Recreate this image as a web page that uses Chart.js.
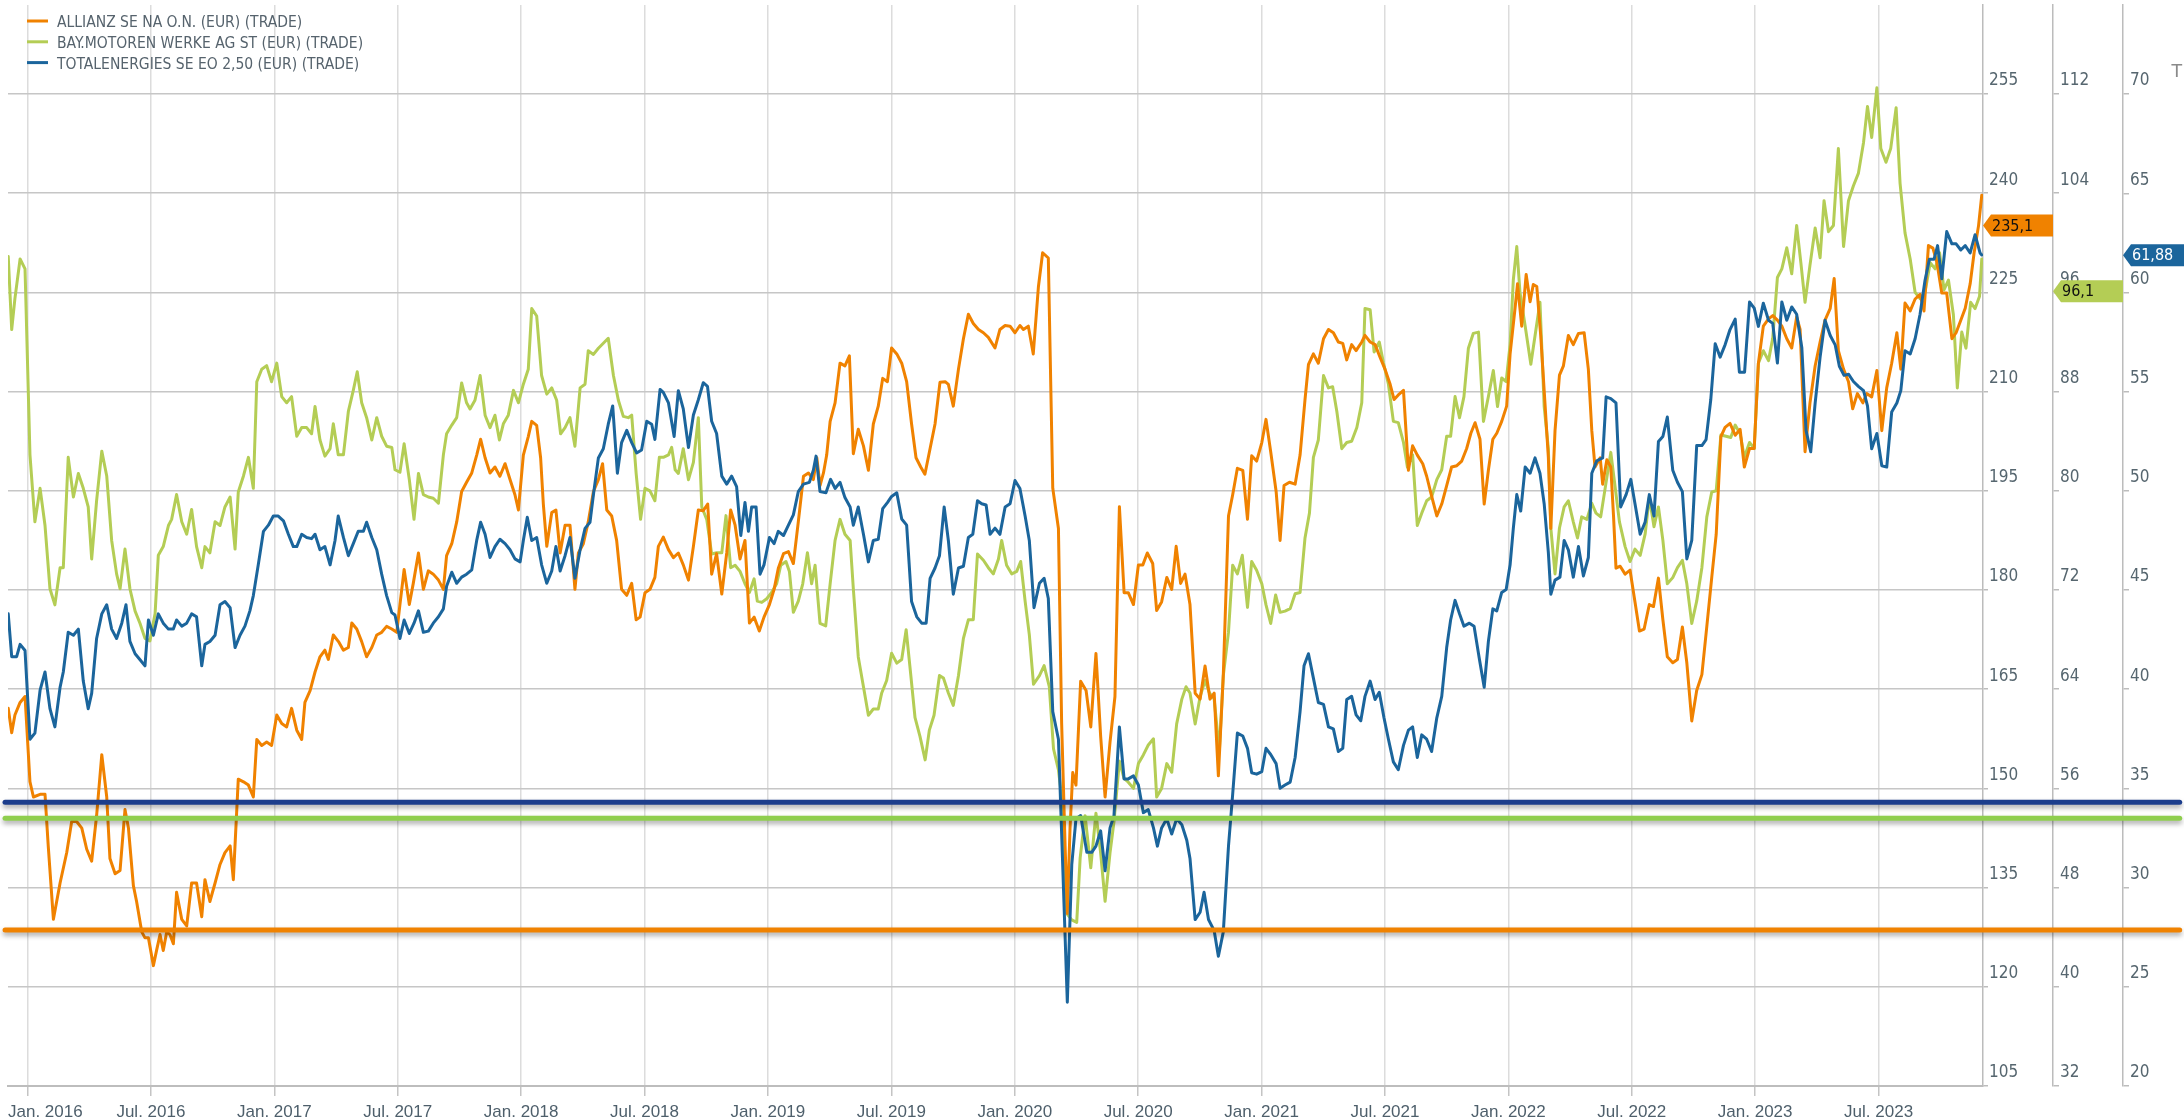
<!DOCTYPE html>
<html>
<head>
<meta charset="utf-8">
<title>Allianz / BMW / TotalEnergies</title>
<script src="https://cdn.jsdelivr.net/npm/chart.js@4.4.1/dist/chart.umd.min.js"></script>
<style>
    html, body { margin: 0; padding: 0; background: #ffffff; }
    #wrap { width: 2184px; height: 1120px; }
</style>
</head>
<body>
<div id="wrap"><canvas id="myChart" width="2184" height="1120"></canvas></div>
<script>
// x values are decimal years
const xTickValues = [2016, 2016.5, 2017, 2017.5, 2018, 2018.5, 2019, 2019.5, 2020, 2020.5, 2021, 2021.5, 2022, 2022.5, 2023, 2023.5];
const xTickLabels = ['Jan. 2016', 'Jul. 2016', 'Jan. 2017', 'Jul. 2017', 'Jan. 2018', 'Jul. 2018', 'Jan. 2019', 'Jul. 2019',
    'Jan. 2020', 'Jul. 2020', 'Jan. 2021', 'Jul. 2021', 'Jan. 2022', 'Jul. 2022', 'Jan. 2023', 'Jul. 2023'];
const xRange = [2015.921, 2023.923];

const seriesNames = ['ALLIANZ SE NA O.N. (EUR) (TRADE)', 'BAY.MOTOREN WERKE AG ST (EUR) (TRADE)', 'TOTALENERGIES SE EO 2,50 (EUR) (TRADE)'];
const lastValues = [235.1, 96.1, 61.88];

// horizontal marker lines (value on each series' own axis)
const levelRange = [2015.909, 2024.72];
const levelValues = [128.6, 53.6, 34.3];

const allianzSeries = [
    [2015.922,162.1],[2015.936,158.4],[2015.949,161.1],[2015.970,163.0],[2015.990,163.9],[2016.010,151.0],[2016.024,148.7],[2016.051,149.1],[2016.071,149.1],[2016.084,141.3],
    [2016.105,130.2],[2016.132,135.7],[2016.159,140.3],[2016.179,145.0],[2016.199,145.0],[2016.220,144.0],[2016.240,140.8],[2016.260,139.0],[2016.280,145.9],[2016.301,155.1],
    [2016.321,148.7],[2016.334,139.4],[2016.355,137.1],[2016.375,137.6],[2016.395,146.8],[2016.409,144.0],[2016.429,135.3],[2016.442,132.9],[2016.463,128.3],[2016.476,127.4],
    [2016.490,127.4],[2016.510,123.2],[2016.523,125.5],[2016.537,127.9],[2016.550,125.5],[2016.564,128.3],[2016.577,127.9],[2016.591,126.5],[2016.604,134.3],[2016.625,130.2],
    [2016.645,129.2],[2016.665,135.7],[2016.685,135.7],[2016.706,130.6],[2016.719,136.2],[2016.739,132.9],[2016.760,135.7],[2016.780,138.5],[2016.800,140.3],[2016.821,141.3],
    [2016.834,136.2],[2016.854,151.4],[2016.875,151.0],[2016.895,150.5],[2016.915,148.7],[2016.929,157.4],[2016.949,156.5],[2016.969,157.0],[2016.989,156.5],[2017.010,161.1],
    [2017.030,159.8],[2017.050,159.3],[2017.070,162.1],[2017.091,158.8],[2017.111,157.4],[2017.124,163.0],[2017.145,164.8],[2017.165,167.6],[2017.185,169.9],[2017.205,170.9],
    [2017.219,169.5],[2017.239,173.2],
    [2017.260,172.2],[2017.280,170.9],[2017.300,171.3],[2017.314,175.0],[2017.334,174.1],[2017.354,172.2],[2017.374,169.9],[2017.395,171.3],[2017.415,173.2],[2017.435,173.6],
    [2017.455,174.5],[2017.476,174.1],[2017.496,173.6],[2017.509,177.8],[2017.526,183.1],[2017.547,177.8],[2017.563,181.0],[2017.584,185.6],[2017.604,180.1],[2017.624,182.9],
    [2017.644,182.4],[2017.665,181.5],[2017.685,180.1],[2017.698,185.2],[2017.719,187.0],[2017.739,190.3],[2017.759,194.9],[2017.779,196.3],[2017.800,197.7],[2017.820,200.4],
    [2017.836,202.8],[2017.854,200.0],[2017.874,197.7],[2017.894,198.6],[2017.914,197.2],[2017.935,199.1],[2017.955,196.7],[2017.975,194.4],[2017.989,192.1],[2018.009,200.4],
    [2018.029,203.2],[2018.043,205.5],[2018.063,204.9],[2018.079,200.0],[2018.090,193.0],[2018.104,186.6],[2018.124,191.7],[2018.141,192.1],[2018.158,185.6],[2018.178,189.8],
    [2018.198,189.8],[2018.218,180.1],[2018.232,185.6],[2018.252,187.0],[2018.272,190.3],[2018.293,194.9],[2018.313,196.7],[2018.330,199.1],[2018.347,192.1],[2018.367,191.2],
    [2018.387,187.5],[2018.407,180.1],[2018.428,179.2],[2018.448,181.0],[2018.466,175.5],[2018.482,175.9],[2018.502,179.6],[2018.522,180.1],[2018.542,181.9],[2018.556,186.6],
    [2018.576,188.0],[2018.597,186.1],[2018.617,184.9],[2018.637,185.6],[2018.657,183.8],[2018.678,181.5],[2018.698,186.6],[2018.718,192.1],[2018.738,192.0],[2018.756,193.0],
    [2018.772,182.4],[2018.792,185.5],[2018.813,179.4],[2018.833,185.6],[2018.849,192.1],[2018.867,189.8],[2018.887,184.7],[2018.907,187.5],[2018.925,175.0],[2018.944,175.9],
    [2018.965,173.8],[2018.984,175.9],[2019.006,177.8],[2019.025,180.1],[2019.042,183.3],[2019.063,185.5],[2019.083,185.8],[2019.103,184.0],[2019.123,190.3],[2019.144,197.2],
    [2019.164,197.7],[2019.184,196.7],[2019.198,200.0],[2019.211,195.8],[2019.225,197.7],[2019.238,200.4],[2019.252,205.5],[2019.272,208.3],[2019.292,214.3],[2019.312,213.9],
    [2019.330,215.4],[2019.346,200.6],[2019.366,204.3],[2019.387,201.8],[2019.407,198.1],[2019.427,205.1],[2019.447,207.8],[2019.465,212.0],[2019.484,211.5],[2019.501,216.6],
    [2019.522,215.7],[2019.542,214.3],[2019.562,211.5],[2019.582,205.1],[2019.600,200.0],[2019.619,198.6],[2019.636,197.5],[2019.657,201.4],[2019.677,205.1],[2019.697,211.4],
    [2019.718,211.5],[2019.731,211.1],[2019.751,207.8],[2019.772,213.4],[2019.792,218.0],[2019.812,221.7],[2019.832,220.3],[2019.853,219.4],[2019.873,218.9],[2019.893,218.2],
    [2019.920,216.6],[2019.940,219.4],[2019.961,220.0],[2019.981,219.9],[2020.001,218.9],[2020.021,220.0],[2020.035,219.4],[2020.055,219.9],[2020.075,215.7],[2020.096,225.9],
    [2020.113,231.0],[2020.136,230.2],[2020.154,195.4],[2020.177,189.3],[2020.190,159.8],[2020.204,141.3],[2020.213,131.1],[2020.224,144.0],[2020.235,152.4],[2020.248,150.5],
    [2020.267,166.2],[2020.289,164.8],[2020.308,159.3],[2020.329,170.4],[2020.348,157.9],[2020.366,148.7],[2020.386,157.0],[2020.406,163.9],[2020.424,192.6],[2020.443,179.6],
    [2020.460,179.6],[2020.481,177.8],[2020.501,183.8],[2020.519,183.8],[2020.537,185.6],[2020.559,184.0],[2020.575,176.9],[2020.595,178.2],[2020.616,181.9],[2020.636,180.1],
    [2020.654,186.6],[2020.672,181.0],[2020.690,182.4],[2020.710,177.8],[2020.731,164.4],[2020.751,163.5],[2020.771,168.5],[2020.791,163.5],[2020.808,164.4],[2020.825,151.9],
    [2020.845,167.2],[2020.866,191.2],[2020.883,194.4],[2020.902,198.4],[2020.924,198.1],[2020.943,190.7],[2020.960,200.3],[2020.980,199.5],[2021.001,202.3],[2021.018,205.8],
    [2021.037,200.9],[2021.059,194.9],[2021.075,187.5],[2021.091,195.8],[2021.113,196.3],[2021.136,196.0],[2021.156,200.4],[2021.176,208.8],[2021.190,214.1],[2021.210,215.7],
    [2021.230,214.3],
    [2021.251,218.0],[2021.271,219.4],[2021.291,218.9],[2021.311,217.5],[2021.329,217.3],[2021.345,214.8],[2021.365,217.1],[2021.383,216.2],[2021.406,217.5],[2021.419,218.5],
    [2021.440,217.5],[2021.460,217.1],[2021.480,215.2],[2021.500,213.4],[2021.521,211.1],[2021.537,208.8],[2021.554,209.5],[2021.575,210.2],[2021.595,198.1],[2021.612,201.8],
    [2021.631,200.4],[2021.653,199.1],[2021.669,197.2],[2021.689,194.2],[2021.710,191.2],[2021.730,193.0],[2021.750,195.8],[2021.770,198.6],[2021.791,198.8],[2021.811,199.5],
    [2021.831,201.4],[2021.848,203.7],[2021.865,205.3],[2021.885,202.8],[2021.902,193.0],[2021.919,198.1],[2021.937,202.8],[2021.953,203.7],[2021.973,205.5],[2021.993,207.8],
    [2022.007,215.7],[2022.027,222.6],[2022.037,226.3],[2022.054,219.9],[2022.072,227.7],[2022.088,223.6],[2022.101,226.2],[2022.115,225.9],[2022.131,218.5],[2022.145,210.2],
    [2022.162,200.0],[2022.172,189.3],[2022.189,204.1],[2022.207,212.5],[2022.223,213.9],[2022.243,218.5],[2022.263,217.1],[2022.284,218.8],[2022.307,218.9],[2022.324,213.4],
    [2022.338,204.1],[2022.351,198.6],[2022.372,200.0],[2022.382,196.0],[2022.399,199.7],[2022.415,198.6],[2022.426,191.2],[2022.436,183.3],[2022.453,183.6],[2022.473,182.4],
    [2022.493,183.0],[2022.513,178.2],[2022.531,173.8],[2022.550,174.1],[2022.571,177.8],
    [2022.588,177.5],[2022.608,181.8],[2022.626,175.5],[2022.644,169.9],[2022.666,169.0],[2022.685,169.5],[2022.705,174.4],[2022.723,169.0],[2022.743,160.2],[2022.763,164.8],
    [2022.784,167.2],[2022.804,174.5],[2022.824,181.9],[2022.842,188.4],[2022.861,203.2],[2022.878,204.6],[2022.898,205.2],[2022.919,203.4],[2022.939,204.3],[2022.956,198.6],
    [2022.977,201.4],[2022.996,201.4],[2023.013,214.3],[2023.033,219.9],[2023.054,221.0],[2023.071,221.5],[2023.090,220.8],[2023.108,219.9],[2023.128,218.0],[2023.148,216.6],
    [2023.168,221.3],[2023.182,219.4],[2023.202,200.9],[2023.222,208.3],[2023.243,213.9],[2023.263,217.5],[2023.283,220.8],[2023.304,222.6],[2023.320,227.1],[2023.337,216.2],
    [2023.358,213.4],[2023.378,211.5],[2023.395,207.4],[2023.414,209.7],[2023.436,208.3],[2023.452,209.7],[2023.472,209.2],[2023.493,213.2],[2023.513,204.1],[2023.533,210.6],
    [2023.553,214.3],[2023.574,218.9],[2023.590,213.4],[2023.607,223.4],[2023.628,222.2],[2023.648,224.0],[2023.668,224.7],[2023.684,222.2],[2023.702,232.1],[2023.720,231.7],
    [2023.736,229.6],[2023.756,224.9],[2023.776,224.9],[2023.797,218.0],[2023.814,218.9],[2023.833,220.8],[2023.851,222.6],[2023.871,226.3],[2023.887,231.0],[2023.905,235.1],
    [2023.918,239.7]
];

const bmwSeries = [
    [2015.922,98.9],[2015.936,93.0],[2015.949,95.5],[2015.970,98.7],[2015.990,97.9],[2016.010,82.9],[2016.030,77.5],[2016.051,80.2],[2016.071,77.2],[2016.091,72.1],
    [2016.111,70.8],[2016.132,73.8],[2016.145,73.8],[2016.165,82.7],[2016.186,79.5],[2016.206,81.4],[2016.226,80.2],[2016.246,78.7],[2016.260,74.5],[2016.280,79.2],
    [2016.301,83.2],[2016.321,81.2],[2016.341,76.0],[2016.361,73.3],[2016.375,72.1],[2016.395,75.3],[2016.415,72.1],[2016.436,70.3],[2016.456,69.3],[2016.476,68.1],
    [2016.496,67.9],[2016.517,70.1],[2016.530,74.8],[2016.550,75.5],[2016.571,77.2],[2016.584,77.7],[2016.604,79.7],[2016.625,77.5],[2016.645,76.5],[2016.665,78.5],
    [2016.685,75.5],[2016.706,73.8],[2016.719,75.5],[2016.739,75.0],[2016.760,77.5],[2016.780,77.2],[2016.800,78.7],[2016.821,79.5],[2016.841,75.3],[2016.854,79.9],
    [2016.875,81.2],[2016.895,82.7],[2016.915,80.2],[2016.929,88.8],[2016.949,89.8],[2016.969,90.1],[2016.989,88.8],[2017.010,90.3],[2017.030,87.6],[2017.050,87.1],
    [2017.070,87.6],[2017.091,84.4],[2017.111,85.1],[2017.131,85.1],[2017.151,84.6],[2017.165,86.8],[2017.185,84.1],[2017.205,82.8],[2017.226,83.4],[2017.239,85.4],
    [2017.259,82.9],[2017.280,82.9],[2017.300,86.4],[2017.320,88.1],[2017.336,89.6],[2017.354,87.1],[2017.374,85.9],[2017.395,84.1],[2017.415,85.9],[2017.435,84.4],
    [2017.455,83.6],[2017.476,83.5],[2017.489,81.7],[2017.509,81.5],[2017.526,83.8],[2017.547,80.9],[2017.566,77.7],[2017.584,81.4],[2017.604,79.7],[2017.624,79.5],
    [2017.644,79.4],[2017.665,79.0],[2017.685,82.9],[2017.698,84.6],[2017.719,85.3],[2017.739,85.9],[2017.759,88.7],[2017.779,87.1],[2017.793,86.6],[2017.813,87.3],
    [2017.834,89.3],[2017.854,86.1],[2017.874,85.1],[2017.894,86.1],[2017.912,84.1],[2017.928,85.4],[2017.948,86.1],[2017.969,88.1],[2017.989,87.1],[2018.009,88.6],
    [2018.029,89.8],[2018.043,94.7],[2018.063,94.1],[2018.083,89.3],[2018.104,87.8],[2018.124,88.3],[2018.144,87.3],[2018.160,84.6],[2018.178,85.1],[2018.198,85.9],
    [2018.218,83.6],[2018.239,88.3],[2018.259,88.6],[2018.272,91.3],[2018.293,91.0],[2018.313,91.5],[2018.333,91.9],[2018.353,92.3],[2018.374,89.3],[2018.394,87.3],
    [2018.414,86.0],[2018.434,85.9],[2018.448,86.1],[2018.466,81.4],[2018.484,77.7],[2018.502,80.2],[2018.522,80.0],[2018.542,79.2],[2018.560,82.7],
    [2018.576,82.7],[2018.597,82.9],[2018.610,83.5],[2018.624,81.7],[2018.637,81.4],[2018.657,83.4],[2018.678,80.9],[2018.698,82.3],[2018.718,85.9],[2018.732,78.7],
    [2018.752,77.7],[2018.772,74.9],[2018.792,75.0],[2018.813,75.0],[2018.830,78.0],[2018.849,73.8],[2018.867,74.0],[2018.887,73.5],[2018.907,72.5],[2018.925,71.8],
    [2018.944,72.9],[2018.957,71.1],[2018.975,71.0],[2018.995,71.3],[2019.015,71.8],[2019.035,72.5],[2019.052,74.0],[2019.073,74.3],[2019.087,73.5],[2019.103,70.2],
    [2019.123,71.1],[2019.141,72.5],[2019.160,75.0],[2019.177,72.5],[2019.191,74.0],[2019.211,69.3],[2019.234,69.1],[2019.252,72.5],[2019.272,76.0],[2019.292,77.7],
    [2019.312,76.5],[2019.333,76.0],[2019.346,72.1],[2019.366,66.6],[2019.387,64.2],[2019.407,61.9],[2019.427,62.4],[2019.447,62.4],[2019.461,63.7],[2019.481,64.7],
    [2019.501,66.9],[2019.522,66.1],[2019.542,66.4],[2019.560,68.8],[2019.579,65.1],[2019.596,61.7],[2019.616,60.2],[2019.637,58.3],[2019.654,60.7],[2019.673,61.9],
    [2019.695,65.1],[2019.711,64.9],[2019.731,63.7],[2019.751,62.7],[2019.772,65.1],[2019.792,68.1],[2019.812,69.6],[2019.832,69.6],[2019.849,74.9],[2019.873,74.4],
    [2019.893,73.8],
    [2019.913,73.3],[2019.934,74.5],[2019.947,76.0],[2019.967,74.0],[2019.988,73.3],[2020.008,73.5],[2020.024,74.3],[2020.042,71.1],[2020.059,68.4],[2020.076,64.4],
    [2020.100,65.1],[2020.119,65.9],[2020.140,64.2],[2020.157,59.2],[2020.177,57.5],[2020.190,55.3],[2020.211,45.9],[2020.231,45.4],[2020.251,45.2],[2020.265,50.4],
    [2020.285,53.8],[2020.308,49.6],[2020.329,54.0],[2020.348,50.8],[2020.366,46.9],[2020.386,50.8],[2020.402,53.3],[2020.424,58.2],[2020.443,56.8],[2020.460,56.5],
    [2020.481,56.0],[2020.501,58.0],[2020.521,58.7],[2020.541,59.5],[2020.562,60.0],[2020.575,55.3],[2020.595,56.0],[2020.616,58.0],[2020.636,57.3],[2020.656,61.2],
    [2020.677,63.2],[2020.694,64.2],[2020.710,63.7],[2020.731,61.2],[2020.751,63.4],[2020.771,64.7],[2020.789,63.7],[2020.808,63.2],[2020.829,59.0],[2020.845,65.1],
    [2020.866,68.6],[2020.883,74.0],[2020.902,73.3],[2020.922,74.8],[2020.943,70.6],[2020.960,74.3],[2020.980,73.6],[2021.001,72.5],[2021.018,70.8],[2021.037,69.3],
    [2021.057,71.6],[2021.075,70.2],[2021.095,70.3],[2021.116,70.5],[2021.136,71.7],[2021.156,71.8],[2021.176,76.2],[2021.194,78.2],[2021.210,82.7],[2021.230,84.1],
    [2021.251,89.3],[2021.271,88.3],[2021.288,88.4],[2021.305,86.4],[2021.325,83.4],[2021.345,83.9],[2021.365,84.0],[2021.386,85.1],[2021.406,87.1],[2021.419,94.7],
    [2021.440,94.6],[2021.456,91.2],[2021.477,92.0],[2021.494,90.3],[2021.514,88.6],[2021.534,85.6],[2021.554,85.5],[2021.575,83.9],[2021.591,81.9],[2021.612,82.9],
    [2021.631,77.2],[2021.649,78.2],[2021.669,79.2],[2021.689,79.5],[2021.710,80.9],[2021.730,81.7],[2021.750,84.4],[2021.766,84.4],[2021.784,87.6],[2021.802,85.9],
    [2021.820,87.6],[2021.838,91.5],[2021.858,92.7],[2021.879,92.8],[2021.899,85.6],[2021.919,87.6],[2021.939,89.7],[2021.956,86.8],[2021.973,89.1],[2021.991,88.8],
    [2022.007,91.8],[2022.020,97.0],[2022.034,99.7],[2022.047,96.0],[2022.068,93.3],[2022.091,90.2],[2022.108,92.5],[2022.128,95.2],[2022.145,86.8],[2022.162,83.4],
    [2022.172,77.0],[2022.189,73.3],[2022.207,77.0],[2022.226,78.7],[2022.243,79.2],[2022.263,77.5],[2022.280,76.2],[2022.297,77.9],[2022.318,77.7],[2022.338,79.0],
    [2022.355,78.2],[2022.374,77.9],[2022.396,80.7],[2022.415,83.1],[2022.432,80.4],[2022.450,77.5],[2022.473,75.5],[2022.493,74.3],[2022.513,75.3],[2022.534,74.8],
    [2022.554,76.5],[2022.571,79.5],
    [2022.590,77.1],[2022.608,78.7],[2022.626,76.0],[2022.644,72.5],[2022.666,73.0],[2022.685,73.8],[2022.705,74.4],[2022.723,72.5],[2022.743,69.3],[2022.763,71.1],
    [2022.784,73.8],[2022.804,77.9],[2022.824,79.9],[2022.842,80.0],[2022.861,84.5],[2022.882,84.4],[2022.901,84.3],[2022.919,85.3],[2022.939,84.6],[2022.956,82.7],
    [2022.977,83.9],[2022.996,83.4],[2023.013,90.3],[2023.033,91.3],[2023.054,90.5],[2023.071,92.3],[2023.090,97.2],[2023.108,97.9],[2023.128,99.6],[2023.148,97.5],
    [2023.168,101.4],[2023.185,98.4],[2023.202,95.2],[2023.222,98.2],[2023.243,101.2],[2023.263,98.8],[2023.279,103.4],[2023.297,100.9],[2023.317,101.4],[2023.337,107.6],
    [2023.358,99.7],[2023.378,103.4],[2023.398,104.6],[2023.418,105.6],[2023.439,108.1],[2023.455,111.0],[2023.472,108.5],[2023.493,112.5],[2023.509,107.6],[2023.530,106.5],
    [2023.549,107.6],[2023.571,110.9],[2023.587,104.8],[2023.607,100.8],[2023.628,98.7],[2023.648,96.0],[2023.668,95.5],[2023.688,96.0],[2023.709,98.4],[2023.729,97.9],
    [2023.747,99.2],[2023.765,96.2],[2023.783,97.0],[2023.803,94.2],[2023.819,88.3],[2023.837,92.8],[2023.854,91.5],[2023.873,95.2],[2023.891,94.7],[2023.909,95.7],
    [2023.918,98.7]
];

const totalSeries = [
    [2015.922,43.80],[2015.936,41.64],[2015.956,41.64],[2015.970,42.26],[2015.990,41.95],[2016.010,37.48],[2016.030,37.79],[2016.051,39.95],[2016.071,40.87],[2016.091,39.02],
    [2016.111,38.10],[2016.132,40.10],[2016.145,40.87],[2016.165,42.87],[2016.186,42.72],[2016.206,43.03],[2016.226,40.41],[2016.246,39.02],[2016.260,39.79],[2016.280,42.56],
    [2016.301,43.80],[2016.321,44.26],[2016.341,43.03],[2016.361,42.56],[2016.382,43.33],[2016.399,44.26],[2016.415,42.41],[2016.436,41.79],[2016.456,41.49],[2016.476,41.18],
    [2016.490,43.49],[2016.510,42.72],[2016.530,43.80],[2016.550,43.33],[2016.571,43.03],[2016.591,43.03],[2016.604,43.49],[2016.625,43.18],[2016.645,43.33],[2016.665,43.80],
    [2016.685,43.65],[2016.706,41.18],[2016.719,42.26],[2016.739,42.41],[2016.760,42.72],[2016.780,44.26],[2016.800,44.42],[2016.821,44.11],[2016.841,42.10],[2016.861,42.72],
    [2016.881,43.18],[2016.901,43.95],[2016.915,44.72],[2016.935,46.27],[2016.956,47.96],[2016.976,48.27],[2016.996,48.73],[2017.016,48.73],[2017.037,48.49],[2017.057,47.81],
    [2017.077,47.19],[2017.091,47.19],[2017.111,47.81],[2017.131,47.65],[2017.151,47.59],[2017.165,47.81],[2017.185,47.03],[2017.205,47.19],[2017.226,46.27],[2017.246,47.50],
    [2017.259,48.73],[2017.280,47.65],[2017.300,46.73],[2017.320,47.34],[2017.340,47.96],[2017.361,47.96],[2017.374,48.42],[2017.395,47.65],[2017.415,47.03],[2017.435,45.80],
    [2017.455,44.72],[2017.476,43.86],[2017.489,43.74],[2017.509,42.56],[2017.526,43.49],[2017.547,42.81],[2017.566,43.33],[2017.584,43.95],[2017.604,42.87],[2017.624,42.93],
    [2017.644,43.33],[2017.665,43.65],[2017.685,44.05],[2017.698,45.19],[2017.719,45.90],[2017.739,45.34],[2017.759,45.65],[2017.779,45.80],[2017.800,46.02],[2017.820,47.50],
    [2017.836,48.42],[2017.854,47.81],[2017.874,46.64],[2017.894,47.19],[2017.914,47.56],[2017.935,47.34],[2017.955,47.03],[2017.975,46.57],[2017.996,46.42],[2018.009,47.50],
    [2018.025,48.67],[2018.043,47.50],[2018.063,47.65],[2018.083,46.27],[2018.104,45.34],[2018.124,45.96],[2018.141,47.19],[2018.158,45.96],[2018.178,46.73],[2018.198,47.65],
    [2018.218,45.59],[2018.239,47.03],[2018.259,48.11],[2018.279,48.42],[2018.293,49.81],[2018.313,51.66],[2018.333,52.12],[2018.353,53.36],[2018.371,54.28],[2018.390,50.89],
    [2018.407,52.43],[2018.428,53.05],[2018.448,52.43],[2018.468,51.91],[2018.488,52.06],[2018.509,53.51],[2018.529,53.36],[2018.542,52.59],[2018.563,55.11],
    [2018.576,54.96],[2018.597,54.43],[2018.620,52.74],[2018.637,55.05],[2018.657,54.13],[2018.678,52.18],[2018.698,53.82],[2018.718,54.59],[2018.738,55.45],[2018.755,55.27],
    [2018.772,53.51],[2018.792,52.89],[2018.813,50.74],[2018.833,50.34],[2018.853,50.74],[2018.873,50.21],[2018.890,47.75],[2018.907,49.41],[2018.921,47.96],[2018.934,49.19],
    [2018.952,49.19],[2018.968,45.80],[2018.984,46.27],[2019.006,47.65],[2019.025,47.34],[2019.042,47.96],[2019.063,47.75],[2019.083,48.27],[2019.103,48.79],[2019.123,49.96],
    [2019.144,50.34],[2019.168,50.43],[2019.184,51.04],[2019.195,51.75],[2019.211,49.96],[2019.235,49.90],[2019.254,50.58],[2019.272,50.12],[2019.292,50.43],[2019.312,49.66],
    [2019.333,49.19],[2019.346,48.27],[2019.366,49.19],[2019.387,47.81],[2019.407,46.42],[2019.427,47.50],[2019.447,47.56],[2019.465,49.10],[2019.484,49.41],[2019.501,49.72],
    [2019.522,49.90],[2019.542,48.58],[2019.562,48.27],[2019.582,44.42],[2019.603,43.65],[2019.623,43.33],[2019.641,43.33],[2019.657,45.59],[2019.677,46.11],[2019.695,46.73],
    [2019.714,49.19],[2019.731,47.50],[2019.751,44.79],[2019.772,46.11],[2019.792,46.20],[2019.812,47.65],[2019.830,47.81],[2019.849,49.50],[2019.866,49.35],[2019.884,49.29],
    [2019.900,47.81],[2019.920,48.12],[2019.940,47.81],[2019.961,49.19],[2019.981,49.35],[2020.001,50.52],[2020.021,50.12],[2020.042,48.73],[2020.059,47.50],[2020.078,44.11],
    [2020.100,45.34],[2020.119,45.59],[2020.136,44.57],[2020.154,38.87],[2020.177,37.48],[2020.190,32.70],[2020.213,24.22],[2020.231,31.16],[2020.248,33.47],[2020.267,33.63],
    [2020.292,31.78],[2020.312,31.78],[2020.329,32.09],[2020.348,32.86],[2020.366,30.85],[2020.386,33.01],[2020.402,33.63],[2020.424,38.10],[2020.443,35.48],[2020.460,35.48],
    [2020.481,35.63],[2020.501,35.17],[2020.521,33.78],[2020.541,33.93],[2020.562,33.01],[2020.578,32.09],[2020.595,33.01],[2020.616,33.47],[2020.636,32.70],[2020.656,33.47],
    [2020.677,33.17],[2020.697,32.39],[2020.710,31.47],[2020.731,28.39],[2020.751,28.76],[2020.767,29.77],[2020.785,28.39],[2020.808,27.83],[2020.825,26.54],[2020.845,27.77],
    [2020.866,32.09],[2020.883,34.71],[2020.902,37.79],[2020.924,37.64],[2020.943,37.02],[2020.960,35.79],[2020.980,35.72],[2021.001,35.85],[2021.018,37.02],[2021.037,36.71],
    [2021.059,36.25],[2021.075,35.01],[2021.095,35.17],[2021.116,35.32],[2021.136,36.56],[2021.156,38.87],[2021.172,41.18],[2021.190,41.79],[2021.210,40.56],[2021.230,39.33],
    [2021.251,39.24],
    [2021.271,38.10],[2021.291,38.00],[2021.311,36.86],[2021.329,37.02],[2021.345,39.48],[2021.365,39.64],[2021.383,38.71],[2021.402,38.41],[2021.419,39.64],[2021.440,40.41],
    [2021.460,39.48],[2021.477,39.85],[2021.496,38.56],[2021.514,37.48],[2021.534,36.34],[2021.554,35.94],[2021.575,37.17],[2021.595,37.94],[2021.612,38.10],[2021.631,36.56],
    [2021.649,37.70],[2021.669,37.48],[2021.689,36.86],[2021.710,38.56],[2021.730,39.64],[2021.750,42.10],[2021.766,43.49],[2021.784,44.48],[2021.802,43.80],[2021.820,43.18],
    [2021.842,43.33],[2021.861,43.18],[2021.883,41.49],[2021.902,40.10],[2021.919,42.41],[2021.937,44.05],[2021.953,43.95],[2021.973,44.88],[2021.991,45.03],[2022.007,46.27],
    [2022.020,48.11],[2022.034,49.81],[2022.050,48.98],[2022.068,51.20],[2022.088,50.89],[2022.108,51.66],[2022.128,50.89],[2022.145,49.35],[2022.162,46.88],[2022.172,44.79],
    [2022.189,45.50],[2022.209,45.65],[2022.226,47.50],[2022.243,47.03],[2022.263,45.65],[2022.284,47.19],[2022.304,45.71],[2022.324,46.64],[2022.338,50.89],[2022.358,51.51],
    [2022.382,51.66],[2022.396,54.74],[2022.415,54.65],[2022.436,54.43],[2022.455,49.19],[2022.477,49.81],[2022.496,50.58],[2022.513,49.35],[2022.534,47.81],[2022.554,48.42],
    [2022.571,49.81],
    [2022.590,48.73],[2022.608,52.49],[2022.626,52.74],[2022.644,53.72],[2022.666,51.04],[2022.685,50.43],[2022.705,49.96],[2022.723,46.57],[2022.743,47.50],[2022.763,52.28],
    [2022.784,52.28],[2022.801,52.58],[2022.820,54.59],[2022.838,57.42],[2022.858,56.74],[2022.878,57.36],[2022.898,58.13],[2022.919,58.66],[2022.936,55.98],[2022.957,55.98],
    [2022.977,59.52],[2022.996,59.21],[2023.013,58.29],[2023.033,59.46],[2023.054,58.60],[2023.071,58.44],[2023.090,56.44],[2023.108,59.52],[2023.128,58.60],[2023.148,59.27],
    [2023.168,58.90],[2023.189,57.21],[2023.206,53.05],[2023.225,51.97],[2023.243,54.43],[2023.263,56.74],[2023.283,58.60],[2023.304,57.83],[2023.324,57.36],[2023.341,56.28],
    [2023.360,55.82],[2023.378,55.88],[2023.398,55.51],[2023.418,55.27],[2023.439,55.05],[2023.455,54.28],[2023.472,52.12],[2023.493,52.89],[2023.513,51.26],[2023.533,51.20],
    [2023.553,53.97],[2023.574,54.43],[2023.590,55.05],[2023.607,57.06],[2023.628,56.90],[2023.648,57.67],[2023.668,58.90],[2023.688,60.60],[2023.706,61.68],[2023.725,61.68],
    [2023.739,62.36],[2023.756,60.69],[2023.776,63.07],[2023.797,62.45],[2023.814,62.45],[2023.833,62.14],[2023.851,62.36],[2023.871,61.99],[2023.891,62.91],[2023.911,61.99],
    [2023.918,61.89]
];

const colors = ['#f08200', '#b4cd55', '#1b659c'];
const levelColors = ['#f08200', '#8fce4e', '#1c3d8c'];
const tagText = ['#111111', '#111111', '#ffffff'];
const axisIds = ['y1', 'y2', 'y3'];

const NARROW = '"Liberation Sans Narrow", "DejaVu Sans Condensed", "Liberation Sans", sans-serif';
const REGULAR = '"Liberation Sans", Arial, sans-serif';

function toPoints(series) {
    return series.map(function (p) { return {x: p[0], y: p[1]}; });
}

function levelLine(i) {
    return {
        data: [{x: levelRange[0], y: levelValues[i]}, {x: levelRange[1], y: levelValues[i]}],
        yAxisID: axisIds[i],
        borderColor: levelColors[i],
        borderWidth: 5,
        clip: false,
        shadow: true,
        order: -1
    };
}

// soft shadow under the horizontal marker lines
const shadowPlugin = {
    id: 'lineShadow',
    beforeDatasetDraw(chart, args) {
        if (chart.data.datasets[args.index].shadow) {
            const ctx = chart.ctx;
            ctx.save();
            ctx.shadowColor = 'rgba(0,0,0,0.35)';
            ctx.shadowBlur = 5;
            ctx.shadowOffsetY = 3;
        }
    },
    afterDatasetDraw(chart, args) {
        if (chart.data.datasets[args.index].shadow) {
            chart.ctx.restore();
        }
    }
};

// legend, x labels, last-value tags
const overlayPlugin = {
    id: 'overlay',
    afterDraw(chart) {
        const ctx = chart.ctx;
        const area = chart.chartArea;
        ctx.save();

        // legend
        ctx.font = '15.5px ' + NARROW;
        ctx.textAlign = 'left';
        ctx.textBaseline = 'alphabetic';
        seriesNames.forEach(function (name, i) {
            const y = 21 + i * 20.8;
            ctx.strokeStyle = colors[i];
            ctx.lineWidth = 3;
            ctx.beginPath();
            ctx.moveTo(27, y);
            ctx.lineTo(48, y);
            ctx.stroke();
            ctx.fillStyle = '#56636d';
            ctx.fillText(name, 57, y + 6);
        });

        // x labels
        const xs = chart.scales.x;
        ctx.font = '17px ' + REGULAR;
        ctx.fillStyle = '#4e5f6b';
        ctx.textAlign = 'center';
        xTickValues.forEach(function (v, i) {
            const w = ctx.measureText(xTickLabels[i]).width;
            let px = xs.getPixelForValue(v);
            px = Math.max(px, area.left + w / 2);
            ctx.fillText(xTickLabels[i], px, 1117);
        });

        // value tags on each axis
        ctx.font = '16px ' + NARROW;
        ctx.textAlign = 'left';
        ctx.textBaseline = 'middle';
        axisIds.forEach(function (id, i) {
            const sc = chart.scales[id];
            const cy = sc.getPixelForValue(lastValues[i]);
            const x0 = sc.left;
            const x1 = i < 2 ? sc.right : chart.width;
            ctx.fillStyle = colors[i];
            ctx.beginPath();
            ctx.moveTo(x0, cy);
            ctx.lineTo(x0 + 8, cy - 11);
            ctx.lineTo(x1, cy - 11);
            ctx.lineTo(x1, cy + 11);
            ctx.lineTo(x0 + 8, cy + 11);
            ctx.closePath();
            ctx.fill();
            ctx.fillStyle = tagText[i];
            ctx.fillText(String(lastValues[i]).replace('.', ','), x0 + 9, cy + 1);
        });

        ctx.font = '19px ' + REGULAR;
        ctx.fillStyle = '#8a8a8a';
        ctx.fillText('T', 2171, 72);
        ctx.restore();
    }
};

function rightAxis(id, min, max, step, width, weight, onArea) {
    return {
        type: 'linear',
        position: 'right',
        weight: weight,
        min: min,
        max: max,
        afterFit: function (scale) {
            scale.width = width;
            scale.paddingTop = 0;
            scale.paddingBottom = 0;
        },
        ticks: {
            stepSize: step,
            includeBounds: false,
            padding: 1,
            labelOffset: -13,
            color: '#56666f',
            font: {family: NARROW, size: 17}
        },
        grid: {
            drawOnChartArea: onArea,
            color: '#c6c6c6',
            lineWidth: 1.5,
            tickLength: onArea ? 5 : 6,
            tickColor: '#bcbcbc'
        },
        border: {display: true, color: '#bcbcbc', width: 1.5}
    };
}

const config = {
    type: 'line',
    data: {
        datasets: [
            levelLine(0), levelLine(1), levelLine(2),
            {label: seriesNames[2], data: toPoints(totalSeries), yAxisID: 'y3', borderColor: colors[2], borderWidth: 3, order: 0},
            {label: seriesNames[0], data: toPoints(allianzSeries), yAxisID: 'y1', borderColor: colors[0], borderWidth: 3, order: 1},
            {label: seriesNames[1], data: toPoints(bmwSeries), yAxisID: 'y2', borderColor: colors[1], borderWidth: 3, order: 2}
        ]
    },
    options: {
        responsive: false,
        animation: false,
        devicePixelRatio: 1,
        layout: {padding: {left: 8, top: 5, right: 0, bottom: 0}},
        elements: {
            point: {radius: 0, hoverRadius: 0},
            line: {tension: 0, borderJoinStyle: 'round', borderCapStyle: 'round'}
        },
        plugins: {
            legend: {display: false},
            tooltip: {enabled: false}
        },
        scales: {
            x: {
                type: 'linear',
                position: 'bottom',
                min: xRange[0],
                max: xRange[1],
                afterBuildTicks: function (scale) {
                    scale.ticks = xTickValues.map(function (v) { return {value: v}; });
                },
                afterFit: function (scale) {
                    scale.height = 34;
                    scale.paddingLeft = 0;
                    scale.paddingRight = 0;
                },
                ticks: {display: false},
                grid: {color: '#dcdcdc', lineWidth: 1.5, tickLength: 10, tickColor: '#c4c4c4'},
                border: {color: '#bdbdbd', width: 2}
            },
            y1: rightAxis('y1', 105, 268.46, 15, 70, 1, true),
            y2: rightAxis('y2', 32, 119.18, 8, 70, 2, false),
            y3: rightAxis('y3', 20, 74.49, 5, 61, 3, false)
        }
    },
    plugins: [shadowPlugin, overlayPlugin]
};

const myChart = new Chart(document.getElementById('myChart'), config);
</script>
</body>
</html>
